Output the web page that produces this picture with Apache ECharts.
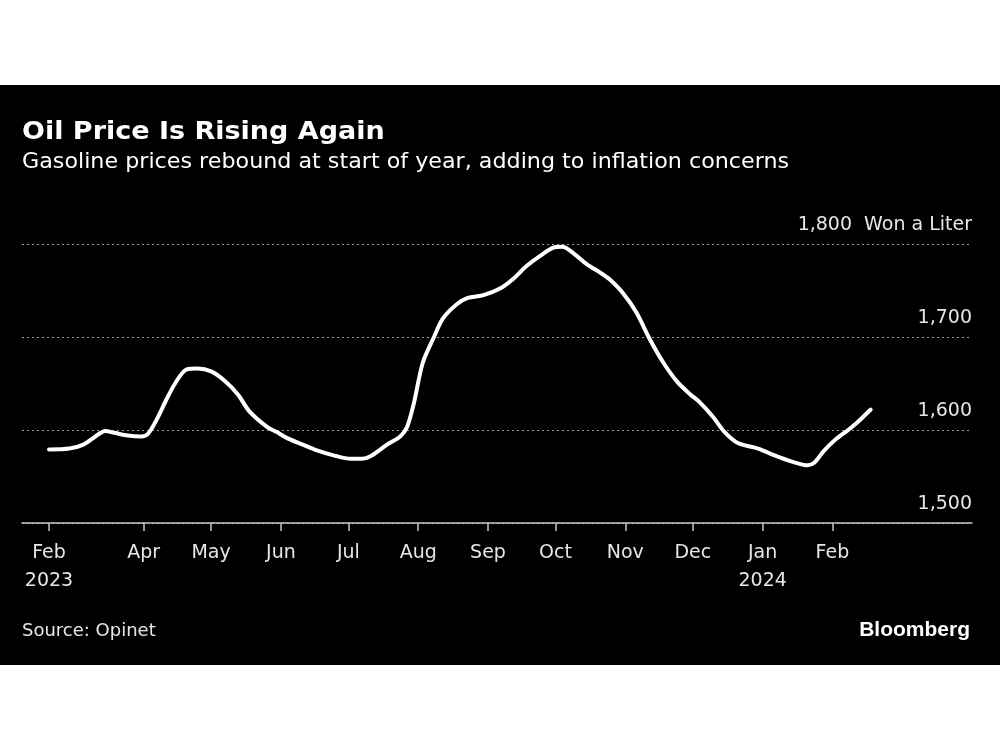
<!DOCTYPE html>
<html>
<head>
<meta charset="utf-8">
<script src="https://cdn.jsdelivr.net/npm/echarts@6/dist/echarts.min.js"></script>
<style>
html,body{margin:0;padding:0;background:#fff;}
#chart{width:1000px;height:750px;}
</style>
</head>
<body>
<div id="chart"></div>
<script>
// Days since Feb 18, 2023
const days = [0, 9, 15, 20, 25, 29, 35, 41, 44, 48, 52, 56, 61, 66, 72, 78, 84, 89, 97, 101, 106, 113, 119, 126, 134, 139, 143, 150, 156, 159, 162, 166, 171, 175, 181, 186, 193, 201, 206, 212, 218, 224, 228, 233, 239, 245, 249, 255, 261, 267, 273, 279, 285, 289, 295, 300, 306, 315, 322, 330, 337, 340, 344, 349, 355, 359, 365];
// Gasoline price, won per liter
const prices = [1579, 1580, 1584, 1592, 1599, 1597, 1594, 1593, 1596, 1612, 1632, 1650, 1665, 1666, 1663, 1653, 1638, 1620, 1603, 1598, 1591, 1584, 1578, 1573, 1569, 1569, 1572, 1584, 1593, 1603, 1628, 1672, 1700, 1720, 1735, 1742, 1745, 1753, 1762, 1776, 1787, 1796, 1797, 1790, 1778, 1769, 1762, 1747, 1726, 1697, 1672, 1652, 1638, 1630, 1614, 1598, 1586, 1580, 1573, 1566, 1562, 1565, 1577, 1589, 1600, 1608, 1622];
const tickDays = [0, 42, 72, 103, 133, 164, 195, 225, 256, 286, 317, 348];
const tickLabels = ['Feb\n2023', 'Apr', 'May', 'Jun', 'Jul', 'Aug', 'Sep', 'Oct', 'Nov', 'Dec', 'Jan\n2024', 'Feb'];
const titleText = 'Oil Price Is Rising Again';
const subtitleText = 'Gasoline prices rebound at start of year, adding to inflation concerns';
const sourceText = 'Source: Opinet';
const brandText = 'Bloomberg';
const unitText = 'Won a Liter';

const chart = echarts.init(document.getElementById('chart'), null, {renderer: 'canvas'});
const FONT = 'DejaVu Sans';
const option = {
  backgroundColor: '#ffffff',
  animation: false,
  graphic: [
    {type: 'rect', z: -10, shape: {x: 0, y: 85, width: 1000, height: 580}, style: {fill: '#000000'}},
    {type: 'text', x: 22, y: 120, scaleX: 1.08, style: {text: titleText, fill: '#ffffff', font: 'bold 25px "DejaVu Sans"'}},
    {type: 'text', x: 22, y: 151, scaleX: 1.01, style: {text: subtitleText, fill: '#ffffff', font: '22px "DejaVu Sans"'}},
    {type: 'text', x: 22, y: 622, style: {text: sourceText, fill: '#e6e6e6', font: '18px "DejaVu Sans"'}},
    {type: 'text', right: 30, top: 620, style: {text: brandText, fill: '#ffffff', font: 'bold 21px "Liberation Sans"'}}
  ],
  grid: {left: 22, right: 28, top: 244, bottom: 227, containLabel: false},
  xAxis: {
    type: 'value',
    min: -12,
    max: 410,
    splitLine: {show: false},
    axisLine: {show: true, onZero: false, lineStyle: {color: '#c8c8c8', width: 1.5}},
    axisTick: {show: true, customValues: tickDays, length: 8, lineStyle: {color: '#c8c8c8', width: 1.5}},
    axisLabel: {
      customValues: tickDays,
      color: '#e6e6e6',
      fontFamily: FONT,
      fontSize: 19,
      lineHeight: 28,
      margin: 16,
      formatter: function (v) { const i = tickDays.indexOf(v); return i >= 0 ? tickLabels[i] : ''; }
    }
  },
  yAxis: {
    type: 'value',
    position: 'right',
    min: 1500,
    max: 1800,
    interval: 100,
    axisLine: {show: false},
    axisTick: {show: false},
    splitLine: {show: true, lineStyle: {color: '#999999', width: 1, type: [2, 3]}},
    axisLabel: {
      inside: true,
      margin: 0,
      color: '#e6e6e6',
      fontFamily: FONT,
      fontSize: 19,
      verticalAlign: 'bottom',
      lineHeight: 22,
      padding: [0, 0, 8, 0],
      formatter: function (v) {
        const s = v.toLocaleString('en-US');
        return v === 1800 ? s + '  ' + unitText : s;
      }
    }
  },
  series: [{
    type: 'line',
    data: days.map((d, i) => [d, prices[i]]),
    showSymbol: false,
    smooth: 0.3,
    lineStyle: {color: '#ffffff', width: 4, cap: 'round', join: 'round'},
    z: 5
  }]
};
chart.setOption(option);
</script>
</body>
</html>
